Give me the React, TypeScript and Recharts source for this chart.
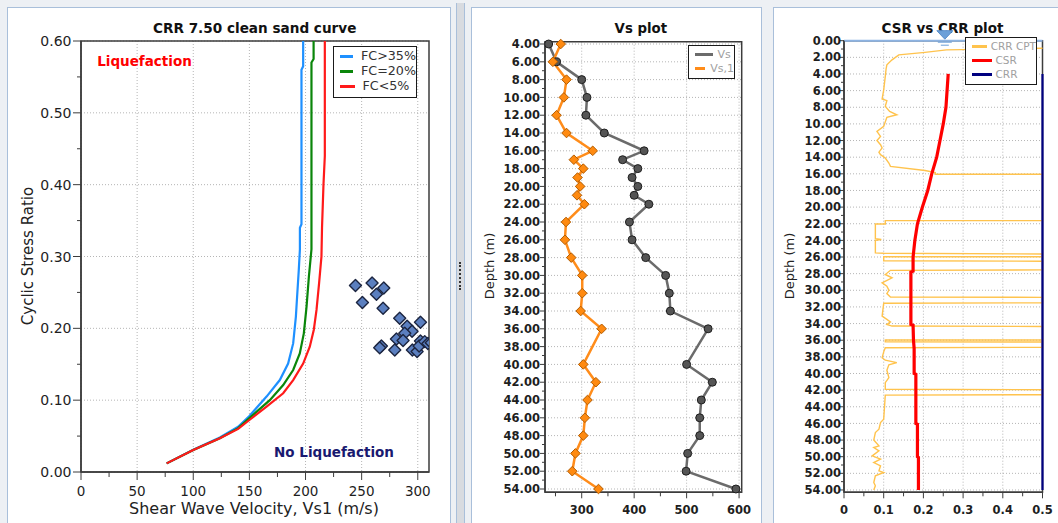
import React from "react";
import {
  ComposedChart,
  LineChart,
  Line,
  Scatter,
  XAxis,
  YAxis,
  CartesianGrid,
  ReferenceArea,
  ReferenceLine,
  ReferenceDot,
  Legend,
} from "recharts";

// ---------- CRR 7.50 clean sand curve ----------
const fc35Vs = [76.3, 100, 123.7, 140, 150, 165.3, 177.1, 184.5, 189, 191.4, 192.5, 194, 195, 195, 196.4, 196.4, 197.9, 197.9];
const fc35Crr = [0.012, 0.031, 0.048, 0.063, 0.078, 0.105, 0.128, 0.151, 0.179, 0.216, 0.244, 0.281, 0.31, 0.34, 0.345, 0.56, 0.565, 0.6];
const fc20Vs = [76.3, 100, 123.7, 140, 150, 168.2, 180.1, 189, 194.9, 198.5, 200.9, 203, 205.3, 205.3, 207.2, 207.2];
const fc20Crr = [0.012, 0.0306, 0.047, 0.061, 0.075, 0.1, 0.121, 0.142, 0.165, 0.193, 0.23, 0.272, 0.31, 0.57, 0.575, 0.6];
const fc5Vs = [76.3, 100, 123.7, 140, 150, 165.3, 180.1, 189, 197.9, 203.8, 207.4, 209.8, 212.1, 214.2, 214.7, 216, 217.2, 217.2];
const fc5Crr = [0.012, 0.0306, 0.047, 0.06, 0.0724, 0.091, 0.1096, 0.128, 0.151, 0.1745, 0.198, 0.2256, 0.263, 0.3, 0.34, 0.4, 0.44, 0.6];

const pointVs1 = [244.5, 259.3, 269.7, 263.2, 250.7, 269.1, 283.9, 302.4, 290.5, 294.9, 288.4, 281, 286.9, 302.4, 267.6, 266.1, 279.5, 295.2, 299.4, 301.2, 306.2, 309, 312];
const pointCsr = [0.2595, 0.263, 0.256, 0.2475, 0.236, 0.228, 0.214, 0.2085, 0.203, 0.196, 0.193, 0.185, 0.183, 0.1825, 0.1755, 0.173, 0.17, 0.17, 0.1676, 0.1755, 0.1815, 0.179, 0.18];

const curveXTicks = [0, 25, 50, 75, 100, 125, 150, 175, 200, 225, 250, 275, 300];
const curveXMajor = [0, 50, 100, 150, 200, 250, 300];
const curveYTicks = [0, 0.05, 0.1, 0.15, 0.2, 0.25, 0.3, 0.35, 0.4, 0.45, 0.5, 0.55, 0.6];
const curveYMajor = [0, 0.1, 0.2, 0.3, 0.4, 0.5, 0.6];

// ---------- Vs plot ----------
const vsDepth = [4, 6, 8, 10, 12, 14, 16, 17, 18, 19, 20, 21, 22, 24, 26, 28, 30, 32, 34, 36, 40, 42, 44, 46, 48, 50, 52, 54];
const vsValues = [237, 252, 300, 310, 308, 343, 419, 378, 407, 396, 407, 400, 428, 391, 396, 422, 460, 467, 469, 541, 500, 549, 528, 525, 525, 502, 499, 594];
const vs1Values = [260, 245, 271, 266, 252, 271, 321, 285, 303, 292, 297, 291, 305, 270, 268, 280, 301, 301, 298, 338, 303, 327, 311, 306, 303, 288, 282, 332];

const vsXTicks = [250, 300, 350, 400, 450, 500, 550, 600];
const vsXMajor = [300, 400, 500, 600];
const vsDepthTicks = [4, 5, 6, 7, 8, 9, 10, 11, 12, 13, 14, 15, 16, 17, 18, 19, 20, 21, 22, 23, 24, 25, 26, 27, 28, 29, 30, 31, 32, 33, 34, 35, 36, 37, 38, 39, 40, 41, 42, 43, 44, 45, 46, 47, 48, 49, 50, 51, 52, 53, 54];
const vsDepthMajor = [4, 6, 8, 10, 12, 14, 16, 18, 20, 22, 24, 26, 28, 30, 32, 34, 36, 38, 40, 42, 44, 46, 48, 50, 52, 54];

// ---------- CSR vs CRR plot ----------
const cptDepth = [0.9, 1.1, 1.4, 1.7, 2.3, 2.9, 3.4, 4.3, 5.9, 7.0, 7.2, 7.9, 8.5, 8.9, 9.2, 10.3, 10.9, 11.5, 12.0, 12.5, 12.9, 13.4, 13.7, 14.1, 14.7, 15.1, 15.6, 15.85, 16.06, 16.06, 21.63, 21.63, 22.03, 22.03, 23.8, 23.9, 24.0, 25.5, 25.55, 25.64, 25.96, 25.96, 26.45, 26.5, 27.55, 27.6, 28.1, 28.5, 29.1, 29.5, 30.0, 30.4, 30.8, 30.85, 31.5, 31.55, 33.1, 33.5, 33.8, 34.1, 34.3, 34.35, 35.97, 35.97, 36.2, 36.21, 36.85, 36.9, 37.4, 38.1, 38.4, 38.7, 38.95, 39.6, 40.5, 41.1, 41.9, 41.95, 42.55, 42.6, 45.5, 45.9, 46.7, 47.1, 48.0, 48.7, 48.9, 49.3, 49.9, 50.3, 50.7, 51.1, 51.7, 51.9, 52.3, 53.1, 53.5, 54.0];
const cptCrr = [0.5, 0.258, 0.204, 0.138, 0.121, 0.108, 0.106, 0.104, 0.1, 0.096, 0.108, 0.104, 0.115, 0.133, 0.108, 0.1, 0.083, 0.092, 0.083, 0.092, 0.096, 0.088, 0.092, 0.104, 0.113, 0.117, 0.204, 0.23, 0.23, 0.5, 0.5, 0.104, 0.104, 0.079, 0.079, 0.094, 0.079, 0.079, 0.1, 0.5, 0.5, 0.1, 0.1, 0.5, 0.5, 0.117, 0.104, 0.121, 0.096, 0.108, 0.113, 0.108, 0.117, 0.5, 0.5, 0.1, 0.096, 0.108, 0.117, 0.108, 0.121, 0.5, 0.5, 0.104, 0.104, 0.5, 0.5, 0.104, 0.1, 0.096, 0.104, 0.133, 0.113, 0.108, 0.113, 0.104, 0.104, 0.5, 0.5, 0.104, 0.1, 0.092, 0.088, 0.079, 0.075, 0.088, 0.075, 0.088, 0.071, 0.092, 0.075, 0.092, 0.088, 0.1, 0.079, 0.075, 0.079, 0.075];
const csrDepth = [4, 8, 10, 12, 14, 16, 18, 20, 22, 24, 26, 27.7, 27.8, 34.1, 34.2, 36, 37, 40, 40.1, 46, 46.1, 50, 50.1, 54];
const csrValue = [0.2625, 0.2568, 0.25, 0.2418, 0.2335, 0.221, 0.211, 0.1975, 0.185, 0.1785, 0.174, 0.174, 0.1685, 0.1685, 0.174, 0.175, 0.1767, 0.1767, 0.181, 0.181, 0.185, 0.185, 0.1875, 0.1875];
const crrDepth = [4, 54];
const crrValue = [0.5, 0.5];
const waterDepth = 0;
const waterMarkX = 0.254;

const csrXTicks = [0, 0.05, 0.1, 0.15, 0.2, 0.25, 0.3, 0.35, 0.4, 0.45, 0.5];
const csrXMajor = [0, 0.1, 0.2, 0.3, 0.4, 0.5];
const csrDepthTicks = [0, 1, 2, 3, 4, 5, 6, 7, 8, 9, 10, 11, 12, 13, 14, 15, 16, 17, 18, 19, 20, 21, 22, 23, 24, 25, 26, 27, 28, 29, 30, 31, 32, 33, 34, 35, 36, 37, 38, 39, 40, 41, 42, 43, 44, 45, 46, 47, 48, 49, 50, 51, 52, 53, 54];
const csrDepthMajor = [0, 2, 4, 6, 8, 10, 12, 14, 16, 18, 20, 22, 24, 26, 28, 30, 32, 34, 36, 38, 40, 42, 44, 46, 48, 50, 52, 54];

const xy = (xs: number[], ys: number[]) => xs.map((x, i) => ({ x, y: ys[i] }));
const dv = (ds: number[], vs: number[]) => ds.map((d, i) => ({ d, v: vs[i] }));

const fc35Rows = xy(fc35Vs, fc35Crr);
const fc20Rows = xy(fc20Vs, fc20Crr);
const fc5Rows = xy(fc5Vs, fc5Crr);
const pointRows = xy(pointVs1, pointCsr);
const vsRows = vsDepth.map((depth, i) => ({ depth, vs: vsValues[i], vs1: vs1Values[i] }));
const cptRows = dv(cptDepth, cptCrr);
const csrRows = dv(csrDepth, csrValue);
const crrRows = dv(crrDepth, crrValue);

const FONT = "'DejaVu Sans', Verdana, sans-serif";
const AXIS = "#3c3c3c";
const GRID = "#b5b5b5";
const PANEL_BORDER = "#a9bfda";

const near = (v: number, list: number[]) => list.some((m) => Math.abs(m - v) < 1e-6);

type TickCfg = {
  majors: number[];
  fmt: (v: number) => string;
  size: number;
  weight: number;
  major: number;
  minor: number;
  gap: number;
};

function leftTick(c: TickCfg) {
  return (p: any) => {
    const v = Number(p.payload.value);
    const big = near(v, c.majors);
    return (
      <g>
        <line x1={p.x} x2={p.x - (big ? c.major : c.minor)} y1={p.y} y2={p.y} stroke={AXIS} />
        {big && (
          <text x={p.x - c.gap} y={p.y} dy="0.36em" textAnchor="end" fontSize={c.size} fontWeight={c.weight} fill="#1e1e1e" fontFamily={FONT}>
            {c.fmt(v)}
          </text>
        )}
      </g>
    );
  };
}

function bottomTick(c: TickCfg) {
  return (p: any) => {
    const v = Number(p.payload.value);
    const big = near(v, c.majors);
    return (
      <g>
        <line x1={p.x} x2={p.x} y1={p.y} y2={p.y + (big ? c.major : c.minor)} stroke={AXIS} />
        {big && (
          <text x={p.x} y={p.y + c.gap} textAnchor="middle" fontSize={c.size} fontWeight={c.weight} fill="#1e1e1e" fontFamily={FONT}>
            {c.fmt(v)}
          </text>
        )}
      </g>
    );
  };
}

type LegendItem = { label: string; color: string };

function legendBox(
  items: LegendItem[],
  o: { w: number; h: number; rowH: number; padTop: number; padLeft: number; lineW: number; gap: number; size: number; color: string }
) {
  return () => (
    <div
      style={{
        width: o.w,
        height: o.h,
        boxSizing: "border-box",
        border: "1.5px solid #1a1a1a",
        background: "#fff",
        overflow: "hidden",
        paddingTop: o.padTop,
        paddingLeft: o.padLeft,
      }}
    >
      {items.map((it) => (
        <div key={it.label} style={{ height: o.rowH, display: "flex", alignItems: "center", whiteSpace: "nowrap" }}>
          <span style={{ display: "inline-block", width: o.lineW, height: 3, background: it.color, marginRight: o.gap }} />
          <span style={{ fontSize: o.size, color: o.color, fontFamily: FONT, lineHeight: 1 }}>{it.label}</span>
        </div>
      ))}
    </div>
  );
}

function Txt({
  x,
  y,
  size,
  weight = 400,
  color = "#222",
  rotate = false,
  children,
}: {
  x: number;
  y: number;
  size: number;
  weight?: number;
  color?: string;
  rotate?: boolean;
  children: React.ReactNode;
}) {
  return (
    <div
      style={{
        position: "absolute",
        left: x,
        top: y,
        transform: `translate(-50%, -50%)${rotate ? " rotate(-90deg)" : ""}`,
        whiteSpace: "nowrap",
        fontSize: size,
        fontWeight: weight,
        color,
        fontFamily: FONT,
      }}
    >
      {children}
    </div>
  );
}

const Diamond = (p: any) => {
  if (p.cx == null) return null;
  const r = 6;
  return (
    <polygon
      points={`${p.cx},${p.cy - r} ${p.cx + r},${p.cy} ${p.cx},${p.cy + r} ${p.cx - r},${p.cy}`}
      fill="#5b7fbf"
      stroke="#1c2540"
      strokeWidth={1.4}
      strokeLinejoin="round"
    />
  );
};

const GreyDot = (p: any) => {
  if (p.cx == null) return null;
  return <circle key={`g${p.index}`} cx={p.cx} cy={p.cy} r={4} fill="#555" stroke="#1e1e1e" strokeWidth={1} />;
};

const OrangeDiamond = (p: any) => {
  if (p.cx == null) return null;
  const r = 4.8;
  return (
    <polygon
      key={`o${p.index}`}
      points={`${p.cx},${p.cy - r} ${p.cx + r},${p.cy} ${p.cx},${p.cy + r} ${p.cx - r},${p.cy}`}
      fill="#ff8a10"
      stroke="#b35c00"
      strokeWidth={1}
    />
  );
};

const WaterMark = (p: any) => {
  const { cx, cy } = p;
  return (
    <g>
      <polygon points={`${cx - 8},${cy - 10} ${cx + 8},${cy - 10} ${cx},${cy - 1.5}`} fill="#6b9fd8" stroke="#5b8fcc" />
      <line x1={cx - 7} x2={cx + 7} y1={cy + 1.5} y2={cy + 1.5} stroke="#6b9fd8" />
      <line x1={cx - 4} x2={cx + 4} y1={cy + 4.5} y2={cy + 4.5} stroke="#6b9fd8" />
    </g>
  );
};

function Panel({ x, w }: { x: number; w: number }) {
  return (
    <div
      style={{
        position: "absolute",
        left: x,
        top: 7,
        width: w,
        height: 530,
        boxSizing: "border-box",
        border: `1px solid ${PANEL_BORDER}`,
        background: "#fff",
      }}
    />
  );
}

function CurveChart() {
  return (
    <>
      <Txt x={254.7} y={28} size={13.6} weight={700} color="#111">
        CRR 7.50 clean sand curve
      </Txt>
      <Txt x={28} y={256} size={15} rotate>
        Cyclic Stress Ratio
      </Txt>
      <Txt x={254} y={508} size={16}>
        Shear Wave Velocity, Vs1 (m/s)
      </Txt>
      <div style={{ position: "absolute", left: 0, top: 0 }}>
        <ComposedChart width={452} height={523} margin={{ top: 41, right: 23, bottom: 21, left: 31 }}>
          <CartesianGrid stroke={GRID} strokeDasharray="1 2" horizontalValues={curveYMajor} verticalValues={curveXMajor} />
          <XAxis
            type="number"
            dataKey="x"
            domain={[0, 310]}
            allowDataOverflow
            ticks={curveXTicks}
            interval={0}
            tickSize={0}
            tickMargin={0}
            tickLine={false}
            height={30}
            axisLine={{ stroke: AXIS, strokeWidth: 1.5 }}
            tick={bottomTick({ majors: curveXMajor, fmt: (v) => String(v), size: 13.5, weight: 400, major: 8, minor: 5, gap: 23.5 })}
          />
          <YAxis
            type="number"
            domain={[0, 0.6]}
            allowDataOverflow
            ticks={curveYTicks}
            interval={0}
            tickSize={0}
            tickMargin={0}
            tickLine={false}
            width={50}
            axisLine={{ stroke: AXIS, strokeWidth: 1.5 }}
            tick={leftTick({ majors: curveYMajor, fmt: (v) => v.toFixed(2), size: 14, weight: 400, major: 8, minor: 4, gap: 9.5 })}
          />
          <ReferenceArea x1={0} x2={310} y1={0} y2={0.6} fill="none" stroke={AXIS} strokeWidth={1.5} />
          <Line data={fc35Rows} dataKey="y" stroke="#1e90ff" strokeWidth={2.2} dot={false} isAnimationActive={false} />
          <Line data={fc20Rows} dataKey="y" stroke="#0a860a" strokeWidth={2.2} dot={false} isAnimationActive={false} />
          <Line data={fc5Rows} dataKey="y" stroke="#ff1a1a" strokeWidth={2.2} dot={false} isAnimationActive={false} />
          <Scatter data={pointRows} dataKey="y" shape={Diamond} isAnimationActive={false} />
          <Legend
            layout="vertical"
            align="center"
            verticalAlign="middle"
            wrapperStyle={{ left: 333, top: 46, width: 84, height: 52 }}
            content={legendBox(
              [
                { label: "FC>35%", color: "#1e90ff" },
                { label: "FC=20%", color: "#0a860a" },
                { label: "FC<5%", color: "#ff1a1a" },
              ],
              { w: 84, h: 52, rowH: 15, padTop: 2, padLeft: 5.5, lineW: 15, gap: 8, size: 12.7, color: "#333" }
            )}
          />
        </ComposedChart>
      </div>
      <Txt x={144.5} y={61} size={13.5} weight={700} color="#ff0000">
        Liquefaction
      </Txt>
      <Txt x={334} y={451.7} size={13.5} weight={700} color="#191970">
        No Liquefaction
      </Txt>
    </>
  );
}

function VsChart() {
  return (
    <>
      <Txt x={640.8} y={28} size={13.3} weight={700} color="#111">
        Vs plot
      </Txt>
      <Txt x={489} y={266} size={13} rotate>
        Depth (m)
      </Txt>
      <div style={{ position: "absolute", left: 471, top: 0 }}>
        <LineChart layout="vertical" width={291} height={523} data={vsRows} margin={{ top: 41.7, right: 20.3, bottom: 5.7, left: 14 }}>
          <CartesianGrid stroke={GRID} strokeDasharray="1 2" horizontalValues={vsDepthMajor} verticalValues={vsXMajor} />
          <XAxis
            type="number"
            domain={[230, 605]}
            ticks={vsXTicks}
            interval={0}
            tickSize={0}
            tickMargin={0}
            tickLine={false}
            height={25}
            axisLine={{ stroke: AXIS, strokeWidth: 1.5 }}
            tick={bottomTick({ majors: vsXMajor, fmt: (v) => String(v), size: 11.5, weight: 700, major: 6, minor: 4, gap: 21.7 })}
          />
          <YAxis
            type="number"
            dataKey="depth"
            domain={[3.74, 54.37]}
            ticks={vsDepthTicks}
            interval={0}
            tickSize={0}
            tickMargin={0}
            tickLine={false}
            width={60}
            axisLine={{ stroke: AXIS, strokeWidth: 1.5 }}
            tick={leftTick({ majors: vsDepthMajor, fmt: (v) => v.toFixed(2), size: 11.5, weight: 700, major: 5, minor: 3, gap: 5 })}
          />
          <ReferenceArea x1={230} x2={605} y1={3.74} y2={54.37} fill="none" stroke={AXIS} strokeWidth={1.5} />
          <Line dataKey="vs" stroke="#6b6b6b" strokeWidth={2.5} dot={GreyDot} isAnimationActive={false} />
          <Line dataKey="vs1" stroke="#ff8c1a" strokeWidth={2.5} dot={OrangeDiamond} isAnimationActive={false} />
          <Legend
            layout="vertical"
            align="center"
            verticalAlign="middle"
            wrapperStyle={{ left: 217, top: 45, width: 47, height: 34 }}
            content={legendBox(
              [
                { label: "Vs", color: "#6b6b6b" },
                { label: "Vs,1", color: "#ff8c1a" },
              ],
              { w: 47, h: 34, rowH: 14, padTop: 1, padLeft: 5.5, lineW: 18, gap: 5, size: 11, color: "#a0a0a0" }
            )}
          />
        </LineChart>
      </div>
    </>
  );
}

function CsrChart() {
  return (
    <>
      <Txt x={942.5} y={28} size={13.5} weight={700} color="#111">
        CSR vs CRR plot
      </Txt>
      <Txt x={789} y={266} size={13} rotate>
        Depth (m)
      </Txt>
      <div style={{ position: "absolute", left: 773, top: 0 }}>
        <LineChart layout="vertical" width={285} height={523} margin={{ top: 40.7, right: 15.5, bottom: 5.7, left: 16 }}>
          <CartesianGrid stroke={GRID} strokeDasharray="1 2" horizontalValues={csrDepthMajor} verticalValues={csrXMajor} />
          <XAxis
            type="number"
            domain={[0, 0.5]}
            ticks={csrXTicks}
            interval={0}
            tickSize={0}
            tickMargin={0}
            tickLine={false}
            height={25}
            axisLine={{ stroke: AXIS, strokeWidth: 1.5 }}
            tick={bottomTick({ majors: csrXMajor, fmt: (v) => String(v), size: 11.5, weight: 700, major: 6, minor: 4, gap: 21.7 })}
          />
          <YAxis
            type="number"
            dataKey="d"
            domain={[0, 54.28]}
            ticks={csrDepthTicks}
            interval={0}
            tickSize={0}
            tickMargin={0}
            tickLine={false}
            width={55}
            axisLine={{ stroke: AXIS, strokeWidth: 1.5 }}
            tick={leftTick({ majors: csrDepthMajor, fmt: (v) => v.toFixed(2), size: 11.5, weight: 700, major: 5, minor: 3, gap: 3 })}
          />
          <ReferenceArea x1={0} x2={0.5} y1={0} y2={54.28} fill="none" stroke={AXIS} strokeWidth={1.5} />
          <Line data={cptRows} dataKey="v" stroke="#ffc34d" strokeWidth={1.4} dot={false} isAnimationActive={false} />
          <Line data={csrRows} dataKey="v" stroke="#ff0000" strokeWidth={3.2} dot={false} isAnimationActive={false} />
          <Line data={crrRows} dataKey="v" stroke="#000080" strokeWidth={2.2} dot={false} isAnimationActive={false} />
          <ReferenceLine y={waterDepth} stroke="#8db3e2" strokeWidth={2} />
          <ReferenceDot x={waterMarkX} y={waterDepth} r={8} shape={WaterMark} />
          <Legend
            layout="vertical"
            align="center"
            verticalAlign="middle"
            wrapperStyle={{ left: 192, top: 37, width: 72, height: 48 }}
            content={legendBox(
              [
                { label: "CRR CPT", color: "#ffc34d" },
                { label: "CSR", color: "#ff0000" },
                { label: "CRR", color: "#000080" },
              ],
              { w: 72, h: 48, rowH: 14.2, padTop: 1, padLeft: 5.5, lineW: 20, gap: 4, size: 10.5, color: "#a0a0a0" }
            )}
          />
        </LineChart>
      </div>
    </>
  );
}

export default function App() {
  return (
    <div
      style={{
        position: "fixed",
        left: 0,
        top: 0,
        width: 1058,
        height: 523,
        background: "#edf0f4",
        overflow: "hidden",
        fontFamily: FONT,
      }}
    >
      <Panel x={7} w={444} />
      <div
        style={{
          position: "absolute",
          left: 456,
          top: 3,
          width: 9,
          height: 530,
          boxSizing: "border-box",
          background: "#d8dbe0",
          borderLeft: `1px solid ${PANEL_BORDER}`,
          borderRight: `1px solid ${PANEL_BORDER}`,
        }}
      />
      <div style={{ position: "absolute", left: 459, top: 262, width: 0, height: 28, borderLeft: "2px dotted #333" }} />
      <Panel x={471} w={291} />
      <Panel x={773} w={300} />
      <CurveChart />
      <VsChart />
      <CsrChart />
    </div>
  );
}
